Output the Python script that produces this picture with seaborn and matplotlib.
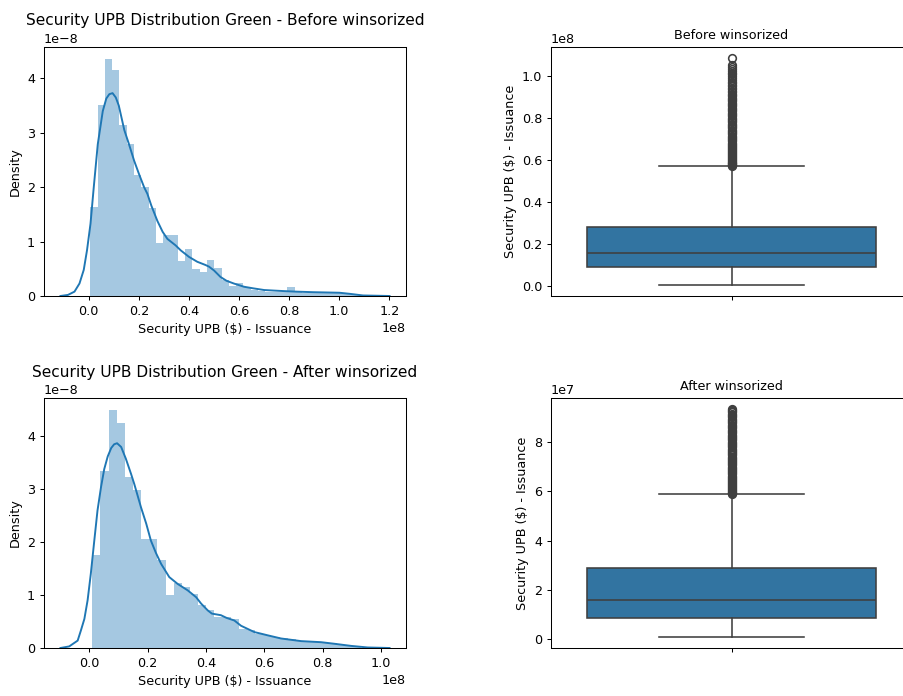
import numpy as np
import pandas as pd
import matplotlib
matplotlib.use("Agg")
import matplotlib.pyplot as plt
import seaborn as sns

# values: dollar amounts in millions, densities in 1e-8

# before winsorizing - histogram bar heights (density x1e-8) and bin range ($M)
before_heights = [1.63, 3.52, 4.36, 4.15, 3.15, 2.80, 2.22, 2.00, 1.62, 0.98,
                  1.12, 1.12, 0.65, 0.87, 0.49, 0.45, 0.67, 0.51, 0.29, 0.18,
                  0.24, 0.16, 0.11, 0.09, 0.08, 0.07, 0.07, 0.16, 0.07, 0.06,
                  0.05, 0.06, 0.07, 0.06, 0.05, 0.04, 0.02]
before_range = [0.6, 108.4]
before_kde_x = [-11.3, -8.3, -5.7, -3.7, -2.0, -0.7, 0.7, 2.0, 3.6, 5.6,
                7.0, 8.2, 9.5, 10.8, 12.0, 14.2, 16.0, 18.1, 20.0, 22.1,
                23.4, 25.0, 27.4, 29.5, 31.4, 34.7, 36.7, 40.0, 43.3, 46.6,
                48.0, 50.0, 52.6, 55.0, 57.9, 62.0, 65.8, 70.0, 73.8, 78.0,
                83.0, 89.7, 95.0, 100.1, 104.2, 109.5, 120.1]
before_kde_y = [0.0, 0.02, 0.08, 0.23, 0.48, 0.84, 1.33, 2.0, 2.79, 3.40,
                3.63, 3.71, 3.73, 3.65, 3.50, 3.05, 2.80, 2.49, 2.25, 2.0,
                1.88, 1.66, 1.38, 1.18, 1.05, 0.93, 0.84, 0.72, 0.63, 0.57,
                0.54, 0.47, 0.35, 0.28, 0.23, 0.17, 0.14, 0.11, 0.10, 0.09,
                0.08, 0.07, 0.065, 0.06, 0.04, 0.01, 0.0]
# whislo, q1, median, q3, whishi ($M)
before_box = [0.5, 8.8, 15.4, 27.9, 57.1]
before_fliers = [57.2, 57.4, 57.7, 58.0, 58.3, 58.6, 59.0, 59.4, 59.8, 60.3,
                 60.8, 61.2, 61.7, 62.2, 62.6, 63.1, 63.6, 64.0, 64.5, 65.1,
                 65.6, 66.0, 66.6, 67.2, 67.7, 68.1, 68.7, 69.3, 69.8, 70.4,
                 71.0, 71.5, 72.1, 72.6, 73.2, 73.8, 74.3, 74.9, 75.5, 76.0,
                 76.6, 77.2, 77.8, 78.3, 78.9, 79.5, 80.1, 80.6, 81.2, 81.8,
                 82.4, 83.0, 83.6, 84.2, 84.8, 85.4, 86.0, 86.6, 87.2, 87.8,
                 88.4, 89.0, 89.6, 90.2, 90.9, 91.5, 92.1, 92.8, 93.5, 94.2,
                 94.9, 95.6, 96.4, 97.1, 97.9, 98.8, 99.7, 100.6, 101.5, 102.4,
                 103.3, 104.2, 105.0, 108.3]

# after winsorizing
after_heights = [1.75, 3.35, 4.50, 4.26, 3.24, 2.99, 2.06, 2.06, 1.67, 1.00,
                 1.23, 1.16, 1.02, 0.81, 0.72, 0.59, 0.58, 0.55, 0.36, 0.34,
                 0.26, 0.24, 0.21, 0.19, 0.17, 0.13, 0.12, 0.11, 0.11, 0.09,
                 0.06, 0.04, 0.03]
after_range = [1.0, 93.1]
after_kde_x = [-9.9, -6.9, -4.0, -2.9, -1.7, -0.6, 0.5, 1.7, 2.8, 4.0,
               5.1, 6.3, 7.5, 8.5, 9.5, 10.9, 12.5, 14.3, 15.4, 17.7,
               19.5, 21.1, 22.8, 24.6, 27.4, 30.3, 33.7, 36.6, 38.3, 40.6,
               42.0, 45.1, 47.0, 49.7, 52.0, 54.3, 56.6, 58.9, 61.1, 65.7,
               72.6, 79.4, 84.0, 89.7, 95.4, 102.9]
after_kde_y = [0.0, 0.03, 0.14, 0.33, 0.55, 0.90, 1.40, 2.03, 2.60, 3.04,
               3.38, 3.62, 3.78, 3.85, 3.87, 3.80, 3.58, 3.29, 3.10, 2.66,
               2.35, 2.03, 1.80, 1.59, 1.34, 1.21, 1.09, 0.96, 0.84, 0.71,
               0.65, 0.62, 0.57, 0.52, 0.42, 0.36, 0.30, 0.27, 0.24, 0.18,
               0.13, 0.11, 0.08, 0.04, 0.01, 0.0]
after_box = [1.1, 8.8, 16.0, 29.0, 58.8]
after_fliers = [58.9, 59.1, 59.4, 59.7, 60.0, 60.4, 60.8, 61.2, 61.6, 62.0,
                62.4, 62.9, 63.3, 63.7, 64.2, 64.6, 65.0, 65.5, 65.9, 66.3,
                66.8, 67.2, 67.7, 68.1, 68.6, 69.0, 69.5, 69.9, 70.4, 70.8,
                71.3, 71.7, 72.2, 72.6, 73.1, 73.5, 74.0, 74.5, 74.9, 75.4,
                75.8, 76.3, 76.8, 77.2, 77.7, 78.2, 78.6, 79.1, 79.6, 80.0,
                80.5, 81.0, 81.5, 81.9, 82.4, 82.9, 83.4, 83.9, 84.4, 84.9,
                85.4, 85.9, 86.4, 86.9, 87.4, 87.9, 88.4, 88.9, 89.4, 89.9,
                90.4, 90.9, 91.4, 91.9, 92.4, 92.8, 93.1]

MILLION = 1e6
DENS = 1e-8
blue = "#1f77b4"
box_fill = sns.desaturate(blue, 0.75)
line_gray = "#3f3f3f"


def draw_hist(ax, heights, rng, kde_x, kde_y, title):
    lo, hi = rng[0] * MILLION, rng[1] * MILLION
    edges = np.linspace(lo, hi, len(heights) + 1)
    bars = pd.DataFrame({
        "upb": (edges[:-1] + edges[1:]) / 2,
        "density": np.array(heights) * DENS,
    })
    sns.histplot(data=bars, x="upb", weights="density", bins=len(heights),
                 binrange=(lo, hi), stat="count", color=blue, alpha=0.4,
                 linewidth=0, ax=ax)
    sns.lineplot(x=np.array(kde_x) * MILLION, y=np.array(kde_y) * DENS,
                 color=blue, linewidth=1.5, ax=ax)
    ax.set_title(title, fontsize=12)
    ax.set_xlabel("Security UPB ($) - Issuance")
    ax.set_ylabel("Density")


def draw_box(ax, box, fliers, title):
    lo, q1, med, q3, hi = [v * MILLION for v in box]
    stats = [dict(whislo=lo, q1=q1, med=med, q3=q3, whishi=hi,
                  fliers=np.array(fliers) * MILLION)]
    ax.bxp(stats, positions=[0], widths=0.8, capwidths=0.4, patch_artist=True,
           boxprops=dict(facecolor=box_fill, edgecolor=line_gray, linewidth=1.25),
           whiskerprops=dict(color=line_gray, linewidth=1.25),
           capprops=dict(color=line_gray, linewidth=1.25),
           medianprops=dict(color=line_gray, linewidth=1.25),
           flierprops=dict(marker="o", markersize=6, markerfacecolor="none",
                           markeredgecolor=line_gray, markeredgewidth=1.25))
    ax.set_xlim(-0.5, 0.5)
    ax.set_xticks([0])
    ax.set_xticklabels([""])
    ax.set_title(title, fontsize=10)
    ax.set_ylabel("Security UPB ($) - Issuance")


W, H, DPI = 903, 696, 92
fig = plt.figure(figsize=(W / DPI, H / DPI), dpi=DPI)


def rect(l, t, r, b):
    return [l / W, 1 - b / H, (r - l) / W, (b - t) / H]


ax_tl = fig.add_axes(rect(44, 47, 406, 296))
ax_tr = fig.add_axes(rect(551, 47, 912, 296))
ax_bl = fig.add_axes(rect(44, 398, 406, 648))
ax_br = fig.add_axes(rect(551, 398, 912, 648))

draw_hist(ax_tl, before_heights, before_range, before_kde_x, before_kde_y,
          "Security UPB Distribution Green - Before winsorized")
draw_box(ax_tr, before_box, before_fliers, "Before winsorized")
draw_hist(ax_bl, after_heights, after_range, after_kde_x, after_kde_y,
          "Security UPB Distribution Green - After winsorized")
draw_box(ax_br, after_box, after_fliers, "After winsorized")

fig.savefig("out.png", dpi=DPI)
